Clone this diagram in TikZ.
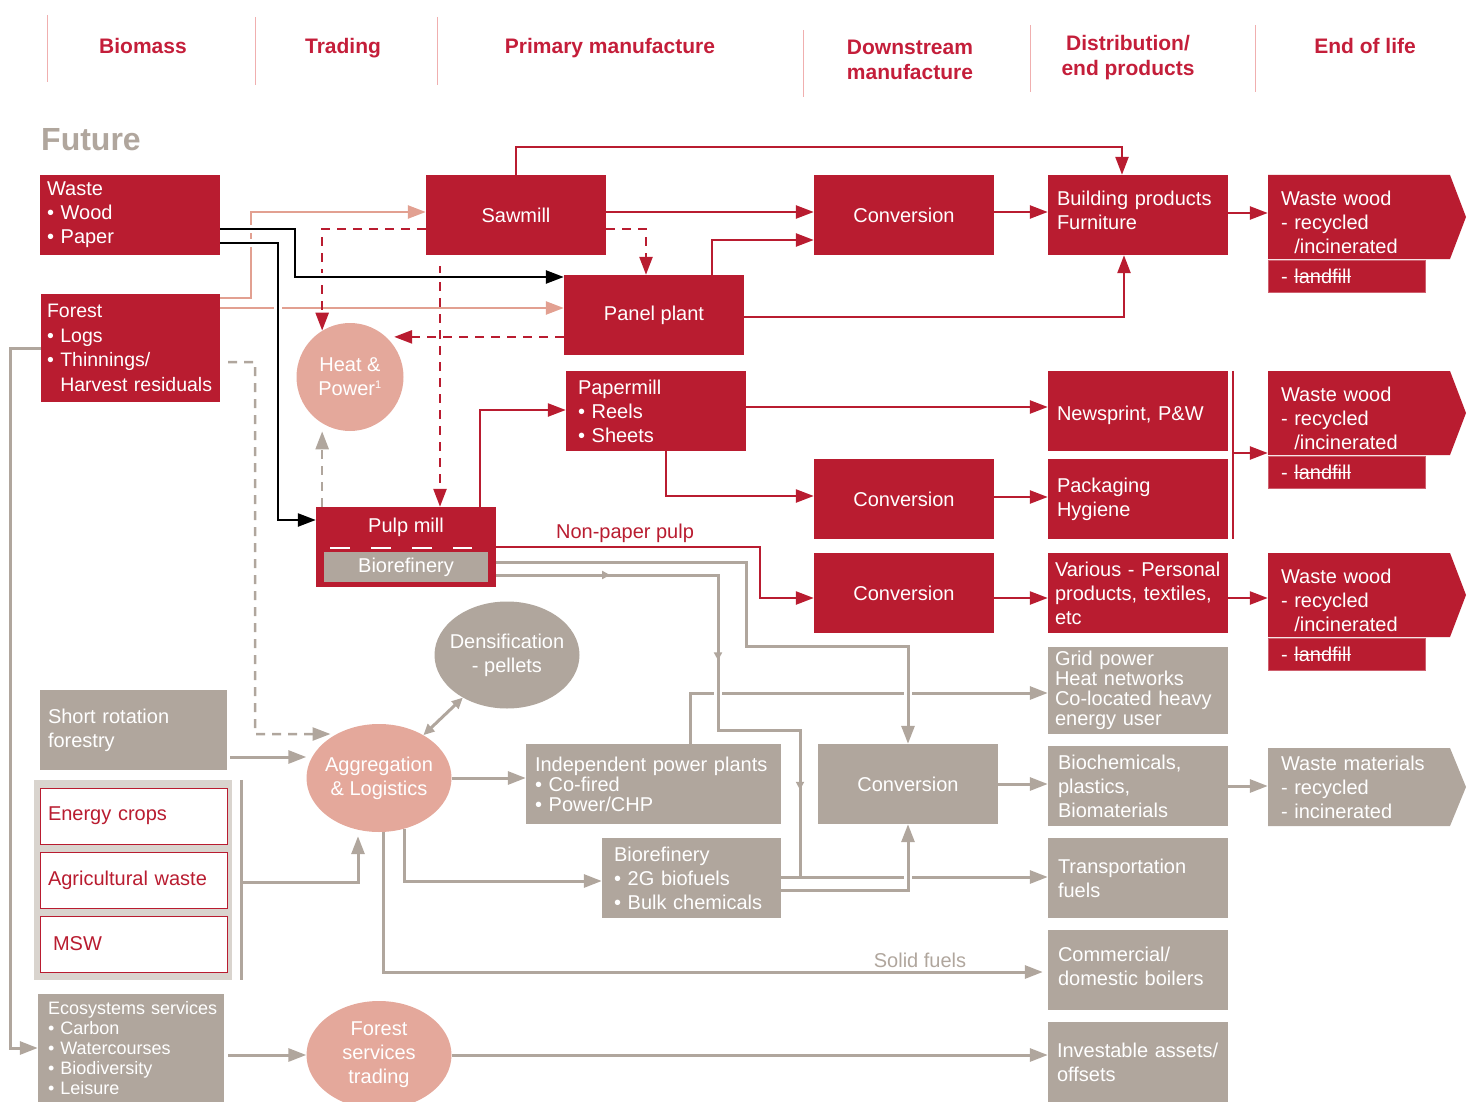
\documentclass[tikz,border=0pt]{standalone}
\usepackage{fontspec}
\setmainfont{Liberation Sans}
\usetikzlibrary{arrows.meta,shapes.geometric,decorations.markings}

\definecolor{fsred}{RGB}{185,28,48}
\definecolor{fshead}{RGB}{196,30,58}
\definecolor{fspink}{RGB}{228,168,155}
\definecolor{fssalmon}{RGB}{226,160,145}
\definecolor{fsgray}{RGB}{176,166,157}
\definecolor{fsgraybg}{RGB}{217,212,206}
\definecolor{fssep}{RGB}{240,175,175}

\newcommand\bodyfont{\fontsize{20}{24}\selectfont}
\newcommand\tightfont{\fontsize{20}{20}\selectfont}
\newcommand\headfont{\fontsize{21}{25}\selectfont\bfseries}
\newcommand\struck[1]{\setbox0\hbox{#1}\rlap{\rule[0.3em]{\wd0}{1.3pt}}\box0}

\tikzset{
  base/.style={inner sep=0pt, font=\bodyfont, execute at begin node={\hyphenpenalty=10000\exhyphenpenalty=10000}},
  redbox/.style={base, rectangle, fill=fsred, text=white, minimum width=180pt, minimum height=80pt},
  graybox/.style={base, rectangle, fill=fsgray, text=white, minimum width=180pt, minimum height=80pt},
  cropbox/.style={base, fill=white, draw=fsred, line width=1pt, text=fsred, minimum width=187pt, minimum height=56pt, align=left, text width=171pt},
  lfbox/.style={base, fill=fsred, draw=fsred!70!white, line width=1pt, text=white, minimum width=157pt, minimum height=32pt, align=left, text width=131pt},
  blob/.style={base, ellipse, text=white, align=center, inner xsep=-20pt, inner ysep=-10pt, minimum width=145pt, minimum height=108pt},
  head/.style={font=\headfont, text=fshead, align=center, inner sep=0pt},
  sepline/.style={draw=fssep, line width=1pt},
  link/.style={line width=2.5pt},
  bigtip/.style={-{Triangle[length=18pt,width=13pt]}},
  redarr/.style={link, draw=fsred, bigtip},
  redline/.style={link, draw=fsred},
  blkarr/.style={link, draw=black, bigtip},
  pinkarr/.style={link, draw=fssalmon, bigtip},
  reddash/.style={redarr, dash pattern=on 9pt off 7pt},
  grayline/.style={line width=3pt, draw=fsgray},
  grayarr/.style={grayline, bigtip},
  graydash/.style={grayarr, line width=2.5pt, dash pattern=on 9pt off 7pt},
  graydbl/.style={grayline, {Triangle[length=11pt,width=10pt]}-{Triangle[length=11pt,width=10pt]}},
  halo/.style={preaction={draw=white, line width=8pt, arrows=-}},
  midarr/.style={postaction={decorate, decoration={markings, mark=at position #1 with {\arrow{Triangle[length=8pt,width=8pt]}}}}}
}

\begin{document}
\begin{tikzpicture}[x=1pt,y=-1pt]
  \useasboundingbox (0,0) rectangle (1472,1102);

  % column heads
  \foreach \xx/\ya/\yb in {47/15/82, 255/17/85, 437/17/85, 803/30/97, 1030/25/92, 1255/25/92}
    \draw[sepline] (\xx,\ya) -- (\xx,\yb);
  \node[head, anchor=base] (hBio) at (143,54) {Biomass};
  \node[head, anchor=base] (hTrade) at (343,54) {Trading};
  \node[head, anchor=base] (hPrim) at (610,54) {Primary manufacture};
  \node[head] (hDown) at (910,60) {Downstream\\manufacture};
  \node[head] (hDist) at (1128,58) {Distribution/\\end products};
  \node[head, anchor=base] (hEnd) at (1365,54) {End of life};
  \node[anchor=west, inner sep=0pt, text=fsgray, font=\fontsize{32}{36}\selectfont\bfseries] (future) at (41,140) {Future};

  % forest industry
  \node[redbox, align=left, text width=166pt] (waste) at (130,215) {Waste\\• Wood\\• Paper};
  \node[redbox, minimum width=179pt, minimum height=108pt, align=left, text width=167pt, font=\fontsize{19.5}{24.5}\selectfont] (forest) at (130.5,348)
    {Forest\\• Logs\\• Thinnings/\\\phantom{• }\mbox{Harvest residuals}};
  \node[redbox] (sawmill) at (516,215) {Sawmill};
  \node[redbox] (panel) at (654,315) {Panel plant};
  \node[redbox, align=left, text width=156pt] (papermill) at (656,411) {Papermill\\• Reels\\• Sheets};
  \node[redbox] (pulp) at (406,547) {};
  \node[base, text=white] (pulptxt) at (406,527) {Pulp mill};
  \node[graybox, minimum width=164pt, minimum height=30pt] (biore) at (406,567) {Biorefinery};
  \draw[white, line width=2.5pt, dash pattern=on 20pt off 21pt] (330,548) -- (472,548);
  \node[blob, fill=fspink, minimum width=107pt] (heat) at (350,377) {Heat \&\\Power\textsuperscript{\fontsize{11}{11}\selectfont 1}};

  \node[redbox] (conv1) at (904,215) {Conversion};
  \node[redbox, align=left, text width=162pt, text depth=34pt] (build) at (1138,215) {Building products\\Furniture};
  \node[redbox, align=left, text width=162pt, text height=23pt] (news) at (1138,411) {Newsprint, P\&W};
  \node[redbox] (conv2) at (904,499) {Conversion};
  \node[redbox, align=left, text width=162pt] (pack) at (1138,499) {Packaging\\Hygiene};
  \node[redbox] (conv3) at (904,593) {Conversion};
  \node[redbox, align=left, text width=166pt] (various) at (1138,593) {Various - Personal\\products, textiles,\\etc};

  \foreach \n/\yy in {1/217, 2/413, 3/595} {
    \fill[fsred] (1268,\yy-42) -- (1450,\yy-42) -- (1466,\yy) -- (1450,\yy+42) -- (1268,\yy+42) -- cycle;
    \node[base, text=white, minimum width=180pt, minimum height=84pt, align=left, text width=154pt] (ww\n) at (1358,\yy+5)
      {Waste wood\\- recycled\\\phantom{- }/incinerated};
    \node[lfbox] (lf\n) at (1346.5,\yy+59) {- \struck{landfill}};
  }
  \node[base, text=fsred] (npp) at (625,533) {Non-paper pulp};

  % energy and services
  \node[blob, fill=fsgray, minimum height=107pt] (dens) at (507,655) {Densification\\- pellets};
  \node[graybox, minimum width=187pt, align=left, text width=171pt] (srf) at (133.5,730) {Short rotation\\forestry};
  \node[fill=fsgraybg, minimum width=198pt, minimum height=200pt, inner sep=0pt] (grp) at (133,880) {};
  \node[cropbox] (crops) at (133.5,816) {Energy crops};
  \node[cropbox] (agri) at (133.5,880) {Agricultural waste};
  \node[cropbox, text width=161pt] (msw) at (133.5,944) {MSW};
  \node[blob, fill=fspink] (agg) at (379,778) {Aggregation\\\& Logistics};
  \node[graybox, minimum width=255pt, align=left, text width=237pt, font=\tightfont] (ipp) at (653.5,784)
    {Independent power plants\\• Co-fired\\• Power/CHP};
  \node[graybox] (convg) at (908,784) {Conversion};
  \node[graybox, minimum height=87pt, align=left, text width=166pt, font=\tightfont] (grid) at (1138,690.5)
    {Grid power\\Heat networks\\Co-located heavy\\energy user};
  \node[graybox, align=left, text width=160pt] (biochem) at (1138,786) {Biochemicals,\\plastics,\\Biomaterials};
  \fill[fsgray] (1268,748) -- (1450,748) -- (1466,787) -- (1450,826) -- (1268,826) -- cycle;
  \node[base, text=white, minimum width=180pt, minimum height=78pt, align=left, text width=154pt] (wm) at (1358,787)
    {Waste materials\\- recycled\\- incinerated};
  \node[graybox, minimum width=179pt, align=left, text width=155pt] (bioref2) at (691.5,878)
    {Biorefinery\\• 2G biofuels\\• Bulk chemicals};
  \node[graybox, align=left, text width=160pt] (transp) at (1138,878) {Transportation\\fuels};
  \node[graybox, align=left, text width=160pt, text depth=32pt] (boilers) at (1138,970) {Commercial/\\domestic boilers};
  \node[graybox, align=left, text width=162pt] (invest) at (1138,1062) {Investable assets/\\offsets};
  \node[graybox, minimum width=186pt, minimum height=108pt, align=left, text width=166pt, font=\fontsize{18}{20}\selectfont] (eco) at (131,1048)
    {\mbox{Ecosystems services}\\• Carbon\\• Watercourses\\• Biodiversity\\• Leisure};
  \node[blob, fill=fspink] (fst) at (379,1055) {Forest\\services\\trading};
  \node[base, text=fsgray] (solid) at (920,960) {Solid fuels};

  % red flows
  \draw[redarr] (sawmill.north) -- ++(0,-28) -| ([xshift=-16pt]build.north);
  \path (sawmill.east |- 0,212) edge[redarr] (conv1.west |- 0,212);
  \path (conv1.east |- 0,212) edge[redarr] (build.west |- 0,212);
  \draw[redarr] (panel.north -| 712,0) |- (conv1.west |- 0,240);
  \draw[redarr] (panel.east |- 0,317) -| ([xshift=-14pt]build.south);
  \path (build.east |- 0,213) edge[redarr] (ww1.west |- 0,213);
  \draw[pinkarr] (forest.east |- 0,298) -| (251,212) -- (sawmill.west |- 0,212);
  \path (forest.east |- 0,308) edge[pinkarr] (panel.west |- 0,308);
  \draw[reddash] (sawmill.west |- 0,229) -| (heat.121);
  \draw[reddash] (sawmill.east |- 0,229) -| (panel.north -| 646,0);
  \draw[reddash, shorten <=11pt] (sawmill.south -| 440,0) -- (pulp.north -| 440,0);
  \draw[reddash, shorten >=8pt] (panel.west |- heat.48) -- (heat.48);
  \draw[graydash, shorten >=8pt] (pulp.north -| heat.239) -- (heat.239);
  \draw[blkarr, halo] (waste.east |- 0,229) -| (295,277) -- (panel.west |- 0,277);
  \draw[blkarr, halo] (waste.east |- 0,243) -| (278,520) -- (pulp.west |- 0,520);
  \draw[redarr] (pulp.north -| 480,0) |- (papermill.west |- 0,410);
  \path (papermill.east |- 0,407) edge[redarr] (news.west |- 0,407);
  \draw[redarr] (papermill.south -| 666,0) |- (conv2.west |- 0,496);
  \path (conv2.east |- 0,497) edge[redarr] (pack.west |- 0,497);
  \draw[redline] ([xshift=5pt]news.north east) -- ([xshift=5pt]pack.south east);
  \path ([xshift=5pt]news.east |- 0,453) edge[redarr] (ww2.west |- 0,453);
  \draw[redarr] (pulp.east |- 0,547) -| (760,598) -- (conv3.west |- 0,598);
  \path (conv3.east |- 0,598) edge[redarr] (various.west |- 0,598);
  \path (various.east |- 0,598) edge[redarr] (ww3.west |- 0,598);

  % gray flows
  \draw[graydash, shorten <=8pt, shorten >=6pt] (forest.east |- 0,362) -| (255,734) -- (agg.134);
  \draw[grayarr, shorten <=3pt] (srf.east |- 0,757) -- (agg.west |- 0,757);
  \draw[grayline] ([xshift=9pt]grp.north east) -- ([xshift=9pt]grp.south east);
  \draw[grayarr, shorten >=4pt] ([xshift=9pt]grp.east |- 0,882) -| (agg.south -| 358,0);
  \draw[graydbl] (agg.44) -- (dens.224);
  \draw[grayarr] (agg.east) -- (ipp.west |- agg.east);
  \draw[grayarr] (agg.297) |- (bioref2.west |- 0,881);
  \draw[grayarr, shorten >=5pt] ([xshift=4pt]agg.south) |- (boilers.west |- 0,972);
  \draw[grayarr] (ipp.north -| 690,0) |- (grid.west |- 0,693);
  \draw[grayarr, halo] (pulp.east |- 0,562) -| (746,646) -| (convg.north);
  \draw[grayline, halo, midarr=0.188, midarr=0.507, midarr=0.856]
    (pulp.east |- 0,575) -| (718,730) -| (800,877);
  \path (bioref2.east |- 0,877) edge[grayarr] (transp.west |- 0,877);
  \draw[grayarr, halo] (bioref2.east |- 0,890) -| (convg.south);
  \path (convg.east |- 0,784) edge[grayarr] (biochem.west |- 0,784);
  \path (biochem.east |- 0,786) edge[grayarr] (wm.west |- 0,786);
  \draw[grayarr] (forest.west) -| (10,1048) -- (eco.west);
  \draw[grayarr, shorten <=4pt] (eco.east |- fst.west) -- (fst.west);
  \draw[grayarr] (fst.east) -- (invest.west |- fst.east);
\end{tikzpicture}
\end{document}
